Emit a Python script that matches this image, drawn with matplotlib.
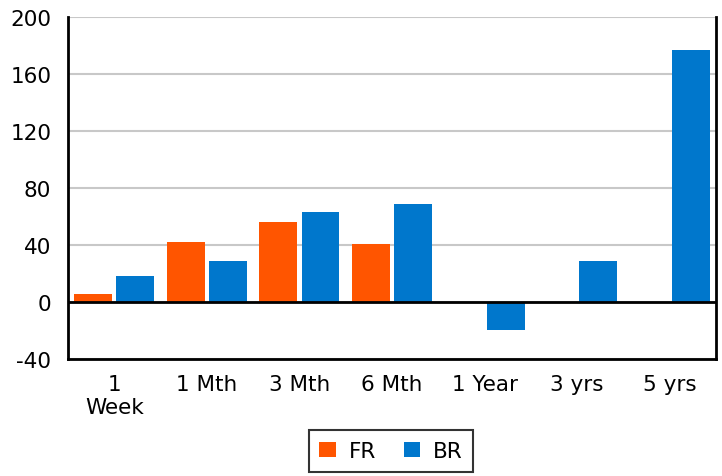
import matplotlib.pyplot as plt
import numpy as np

plt.rcParams["axes.unicode_minus"] = False

categories = ["1\nWeek", "1 Mth", "3 Mth", "6 Mth", "1 Year", "3 yrs", "5 yrs"]
fr = [5.5, 42, 56, 40.5, 0, 0, 0]
br = [18, 29, 63, 68.5, -19.5, 29, 177]

fr_color = "#FF5500"
br_color = "#0077CC"

fig = plt.figure(figsize=(7.22, 4.77), dpi=100)
ax = fig.add_axes([68 / 722, 1 - 360 / 477, (716 - 68) / 722, (360 - 18) / 477])

x = np.arange(len(categories))
w = 0.41
gap = 0.045
ax.bar(x - (w + gap) / 2, fr, width=w, color=fr_color, label="FR", zorder=3)
ax.bar(x + (w + gap) / 2, br, width=w, color=br_color, label="BR", zorder=3)

ax.set_xlim(-0.5, len(categories) - 0.5)
ax.set_ylim(-40, 200)
ax.set_yticks(range(-40, 201, 40))
ax.set_xticks(x)
ax.set_xticklabels(categories, linespacing=1.15)
ax.tick_params(axis="both", length=0, labelsize=15.5)
ax.tick_params(axis="y", pad=12)
ax.tick_params(axis="x", pad=11)
ax.grid(axis="y", color="#C8C8C8", linewidth=1.5, zorder=0)
ax.axhline(0, color="black", linewidth=2, zorder=4)

for s in ["left", "right", "bottom"]:
    ax.spines[s].set_linewidth(2)
    ax.spines[s].set_color("black")
ax.spines["top"].set_visible(False)

leg = fig.legend(loc="center", bbox_to_anchor=(391 / 722, 1 - 452 / 477), ncol=2,
                 fontsize=15.5, frameon=True, fancybox=False, edgecolor="black",
                 handlelength=0.75, handleheight=0.75, handletextpad=0.6, columnspacing=1.3,
                 borderpad=0.5)
leg.get_frame().set_linewidth(1.5)

plt.savefig("out.png")
